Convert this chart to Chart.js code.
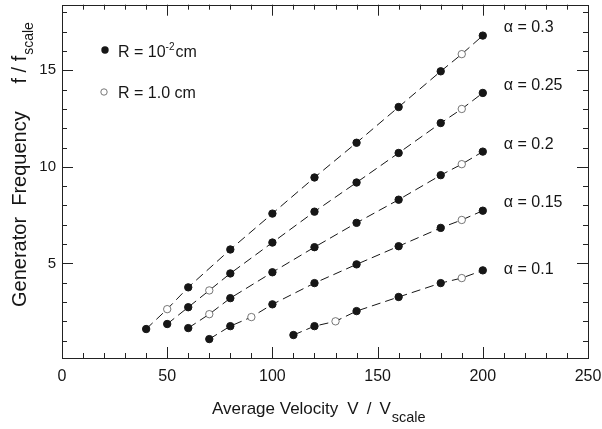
<!DOCTYPE html>
<html>
<head>
<meta charset="utf-8">
<script src="https://cdn.jsdelivr.net/npm/chart.js@4.4.1/dist/chart.umd.min.js"></script>
<style>
    html, body { margin: 0; padding: 0; background: #fff; }
    #chart { display: block; }
</style>
</head>
<body>
<canvas id="chart" width="602" height="429"></canvas>
<script>
"use strict";

// axis ticks
const xTicks = [0, 50, 100, 150, 200, 250];
const yTicks = [5, 10, 15];

// alpha = 0.3
const vel30 = [40, 50, 60, 80, 100, 120, 140, 160, 180, 190, 200];
const freq30 = [1.6, 2.63, 3.76, 5.72, 7.58, 9.45, 11.25, 13.1, 14.95, 15.84, 16.8];
const open30 = [0, 1, 0, 0, 0, 0, 0, 0, 0, 1, 0];

// alpha = 0.25
const vel25 = [50, 60, 70, 80, 100, 120, 140, 160, 180, 190, 200];
const freq25 = [1.86, 2.73, 3.6, 4.48, 6.08, 7.68, 9.19, 10.72, 12.27, 13.0, 13.83];
const open25 = [0, 0, 1, 0, 0, 0, 0, 0, 0, 1, 0];

// alpha = 0.2
const vel20 = [60, 70, 80, 100, 120, 140, 160, 180, 190, 200];
const freq20 = [1.65, 2.37, 3.2, 4.54, 5.84, 7.1, 8.3, 9.57, 10.14, 10.79];
const open20 = [0, 1, 0, 0, 0, 0, 0, 0, 1, 0];

// alpha = 0.15
const vel15 = [70, 80, 90, 100, 120, 140, 160, 180, 190, 200];
const freq15 = [1.08, 1.75, 2.22, 2.88, 3.98, 4.95, 5.89, 6.84, 7.25, 7.73];
const open15 = [0, 0, 1, 0, 0, 0, 0, 0, 1, 0];

// alpha = 0.1
const vel10 = [110, 120, 130, 140, 160, 180, 190, 200];
const freq10 = [1.29, 1.75, 2.0, 2.53, 3.26, 3.98, 4.24, 4.64];
const open10 = [0, 0, 1, 0, 0, 0, 1, 0];

const seriesLabels = ["α = 0.3", "α = 0.25", "α = 0.2", "α = 0.15", "α = 0.1"];

(function (window, document) {
    const FONT = '"Liberation Sans", Arial, Helvetica, sans-serif';
    const INK = "#161616";
    const labelY = [28, 86, 145, 203, 270];

    function series(vel, freq, open, label) {
        return {
            label,
            data: vel.map((v, i) => ({ x: v, y: freq[i] })),
            borderColor: INK,
            borderWidth: 1,
            borderDash: [9, 5],
            tension: 0,
            fill: false,
            pointRadius: 3.7,
            pointHoverRadius: 3.7,
            pointBorderWidth: open.map(o => o ? 0.8 : 1),
            pointBackgroundColor: open.map(o => o ? "#fff" : INK),
            pointBorderColor: open.map(o => o ? "#555" : INK)
        };
    }

    function text(ctx, str, x, y, size, align) {
        ctx.font = size + "px " + FONT;
        ctx.textAlign = align || "left";
        ctx.fillText(str, x, y);
        return ctx.measureText(str).width;
    }

    // the frame must sit on fixed pixels, so drop the label overflow padding
    function noPadding(scale) {
        scale.paddingTop = 0;
        scale.paddingBottom = 0;
        scale.paddingLeft = 0;
        scale.paddingRight = 0;
    }

    const frame = {
        id: "frame",
        afterDatasetsDraw(chart) {
            const ctx = chart.ctx;
            const a = chart.chartArea;
            const xs = chart.scales.x;
            const ys = chart.scales.y;
            ctx.save();
            ctx.strokeStyle = "#222";
            ctx.lineWidth = 1;
            ctx.strokeRect(Math.round(a.left) + 0.5, Math.round(a.top) + 0.5, Math.round(a.right - a.left), Math.round(a.bottom - a.top));
            ctx.beginPath();
            for (let v = 10; v < 250; v += 10) {
                const px = Math.round(xs.getPixelForValue(v)) + 0.5;
                const len = v % 50 === 0 ? 11 : 5;
                ctx.moveTo(px, a.bottom); ctx.lineTo(px, a.bottom - len);
                ctx.moveTo(px, a.top); ctx.lineTo(px, a.top + len);
            }
            for (let v = 1; v <= 18; v++) {
                const py = Math.round(ys.getPixelForValue(v)) + 0.5;
                const len = v % 5 === 0 ? 11 : 5;
                ctx.moveTo(a.left, py); ctx.lineTo(a.left + len, py);
                ctx.moveTo(a.right, py); ctx.lineTo(a.right - len, py);
            }
            ctx.stroke();
            ctx.restore();
        },
        afterDraw(chart) {
            const ctx = chart.ctx;
            const xs = chart.scales.x;
            ctx.save();
            ctx.fillStyle = INK;
            ctx.textBaseline = "middle";

            // curve labels
            const lx = xs.getPixelForValue(210);
            seriesLabels.forEach((label, i) => text(ctx, label, lx, labelY[i], 16));

            // legend
            ctx.fillStyle = INK;
            ctx.beginPath(); ctx.arc(105, 50, 3.7, 0, Math.PI * 2); ctx.fill();
            ctx.beginPath(); ctx.arc(104, 92, 3.2, 0, Math.PI * 2);
            ctx.fillStyle = "#fff"; ctx.fill();
            ctx.strokeStyle = "#555"; ctx.lineWidth = 0.8; ctx.stroke();
            ctx.fillStyle = INK;
            ctx.textBaseline = "alphabetic";
            let x = 118;
            x += text(ctx, "R = 10", x, 57, 16);
            x += text(ctx, "-2", x, 50, 10);
            text(ctx, "cm", x + 1, 57, 16);
            text(ctx, "R = 1.0 cm", 118, 98, 16);

            // x axis title
            x = 212;
            x += text(ctx, "Average Velocity", x, 414, 17) + 9;
            x += text(ctx, "V", x, 414, 17) + 8;
            x += text(ctx, "/", x, 414, 17) + 8;
            x += text(ctx, "V", x, 414, 17) + 1;
            text(ctx, "scale", x, 422, 14.5);

            // y axis title
            ctx.translate(26, 307);
            ctx.rotate(-Math.PI / 2);
            x = 0;
            x += text(ctx, "Generator  Frequency     f / f", x, 0, 20);
            text(ctx, "scale", x + 1, 7, 14);
            ctx.restore();
        }
    };

    function build() {
        const canvas = document.getElementById("chart");
        Chart.defaults.font.family = FONT;
        Chart.defaults.color = INK;
        return new Chart(canvas.getContext("2d"), {
            type: "line",
            data: {
                datasets: [
                    series(vel30, freq30, open30, seriesLabels[0]),
                    series(vel25, freq25, open25, seriesLabels[1]),
                    series(vel20, freq20, open20, seriesLabels[2]),
                    series(vel15, freq15, open15, seriesLabels[3]),
                    series(vel10, freq10, open10, seriesLabels[4])
                ]
            },
            options: {
                responsive: false,
                animation: false,
                devicePixelRatio: 1,
                layout: { padding: { top: 3, right: 14, left: 0, bottom: 0 } },
                plugins: { legend: { display: false }, tooltip: { enabled: false } },
                scales: {
                    x: {
                        type: "linear",
                        min: 0,
                        max: 250,
                        afterBuildTicks: scale => { scale.ticks = xTicks.map(value => ({ value })); },
                        afterFit: scale => { scale.height = 71; noPadding(scale); },
                        grid: { display: false, drawTicks: false },
                        border: { display: false },
                        ticks: { font: { size: 16 }, color: INK, padding: 9, maxRotation: 0 }
                    },
                    y: {
                        type: "linear",
                        min: 0.1,
                        max: 18.4,
                        afterBuildTicks: scale => { scale.ticks = yTicks.map(value => ({ value })); },
                        afterFit: scale => { scale.width = 62; noPadding(scale); },
                        grid: { display: false, drawTicks: false },
                        border: { display: false },
                        ticks: { font: { size: 15 }, color: INK, padding: 6 }
                    }
                }
            },
            plugins: [frame]
        });
    }

    build();
})(window, document);
</script>
</body>
</html>
